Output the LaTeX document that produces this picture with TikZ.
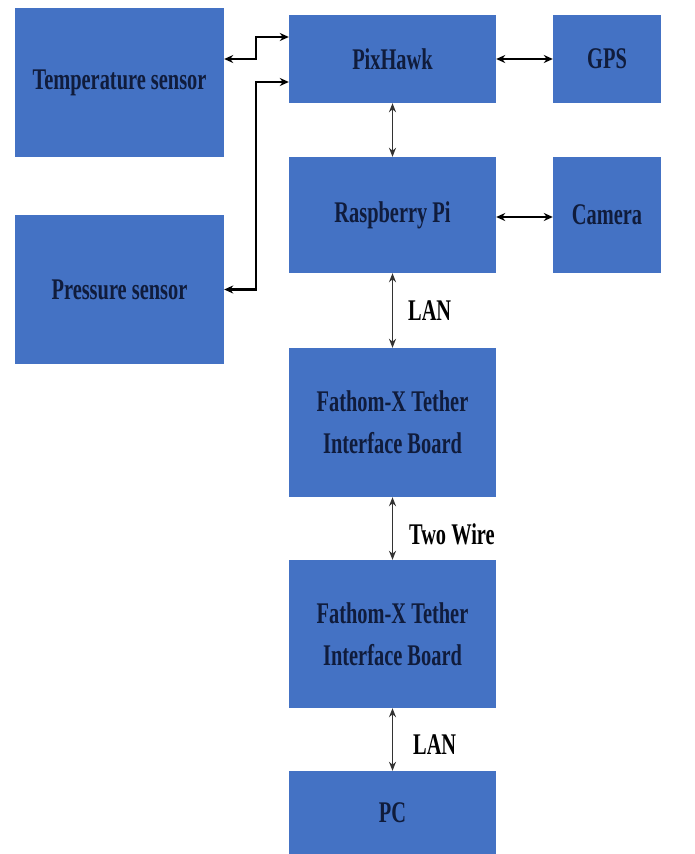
\documentclass[tikz,border=0pt]{standalone}
\usepackage{fontspec}
\setmainfont{Liberation Serif}[FakeStretch=0.68]
\usetikzlibrary{arrows.meta}
\definecolor{boxblue}{HTML}{4472C4}
\definecolor{txtnavy}{HTML}{101C3C}
\tikzset{
  blk/.style={fill=boxblue, draw=none, text=txtnavy, font=\fontsize{30}{42}\selectfont\bfseries, align=center, inner sep=0pt},
  harr/.style={{Stealth[length=9pt,width=8pt]}-{Stealth[length=9pt,width=8pt]}, line width=2.4pt, black},
  varr/.style={{Stealth[length=9pt,width=7pt]}-{Stealth[length=9pt,width=7pt]}, line width=1.3pt, black!80},
  lbl/.style={font=\fontsize{30}{34}\selectfont\bfseries, text=black, anchor=west, inner sep=0pt}
}
\begin{document}
\begin{tikzpicture}[x=1pt,y=-1pt]
\useasboundingbox (0,0) rectangle (695,854);
\fill[white] (0,0) rectangle (695,854);
\node[blk, minimum width=209pt, minimum height=149pt] (temp) at (119.5,82.5) {Temperature sensor};
\node[blk, minimum width=209pt, minimum height=149pt] (press) at (119.5,289.5) {Pressure sensor};
\node[blk, minimum width=207pt, minimum height=88pt] (pix) at (392.5,59) {PixHawk};
\node[blk, minimum width=108pt, minimum height=88pt] (gps) at (607,59) {GPS};
\node[blk, minimum width=207pt, minimum height=116pt] (rpi) at (392.5,215) {Raspberry Pi};
\node[blk, minimum width=108pt, minimum height=116pt] (cam) at (607,215) {Camera};
\node[blk, minimum width=207pt, minimum height=149pt] (fx1) at (392.5,422.5) {Fathom-X Tether\\Interface Board};
\node[blk, minimum width=207pt, minimum height=148pt] (fx2) at (392.5,634) {Fathom-X Tether\\Interface Board};
\node[blk, minimum width=207pt, minimum height=83pt] (pc) at (392.5,812.5) {PC};

\draw[harr] ([yshift=23.5pt]temp.east) -- ++(32,0) |- ([yshift=22pt]pix.west);
\draw[harr] (press.east) -- ++(32,0) |- ([yshift=-23pt]pix.west);
\draw[harr] (pix.east) -- (gps.west);
\draw[harr] ([yshift=-2pt]rpi.east) -- ([yshift=-2pt]cam.west);
\draw[varr] (pix.south) -- (rpi.north);
\draw[varr] (rpi.south) -- node[lbl, pos=0.5, xshift=15pt] (lan1) {LAN} (fx1.north);
\draw[varr] (fx1.south) -- node[lbl, pos=0.5, xshift=16pt, yshift=-6pt] (tw) {Two Wire} (fx2.north);
\draw[varr] (fx2.south) -- node[lbl, pos=0.5, xshift=20pt, yshift=-5pt] (lan2) {LAN} (pc.north);
\end{tikzpicture}
\end{document}
